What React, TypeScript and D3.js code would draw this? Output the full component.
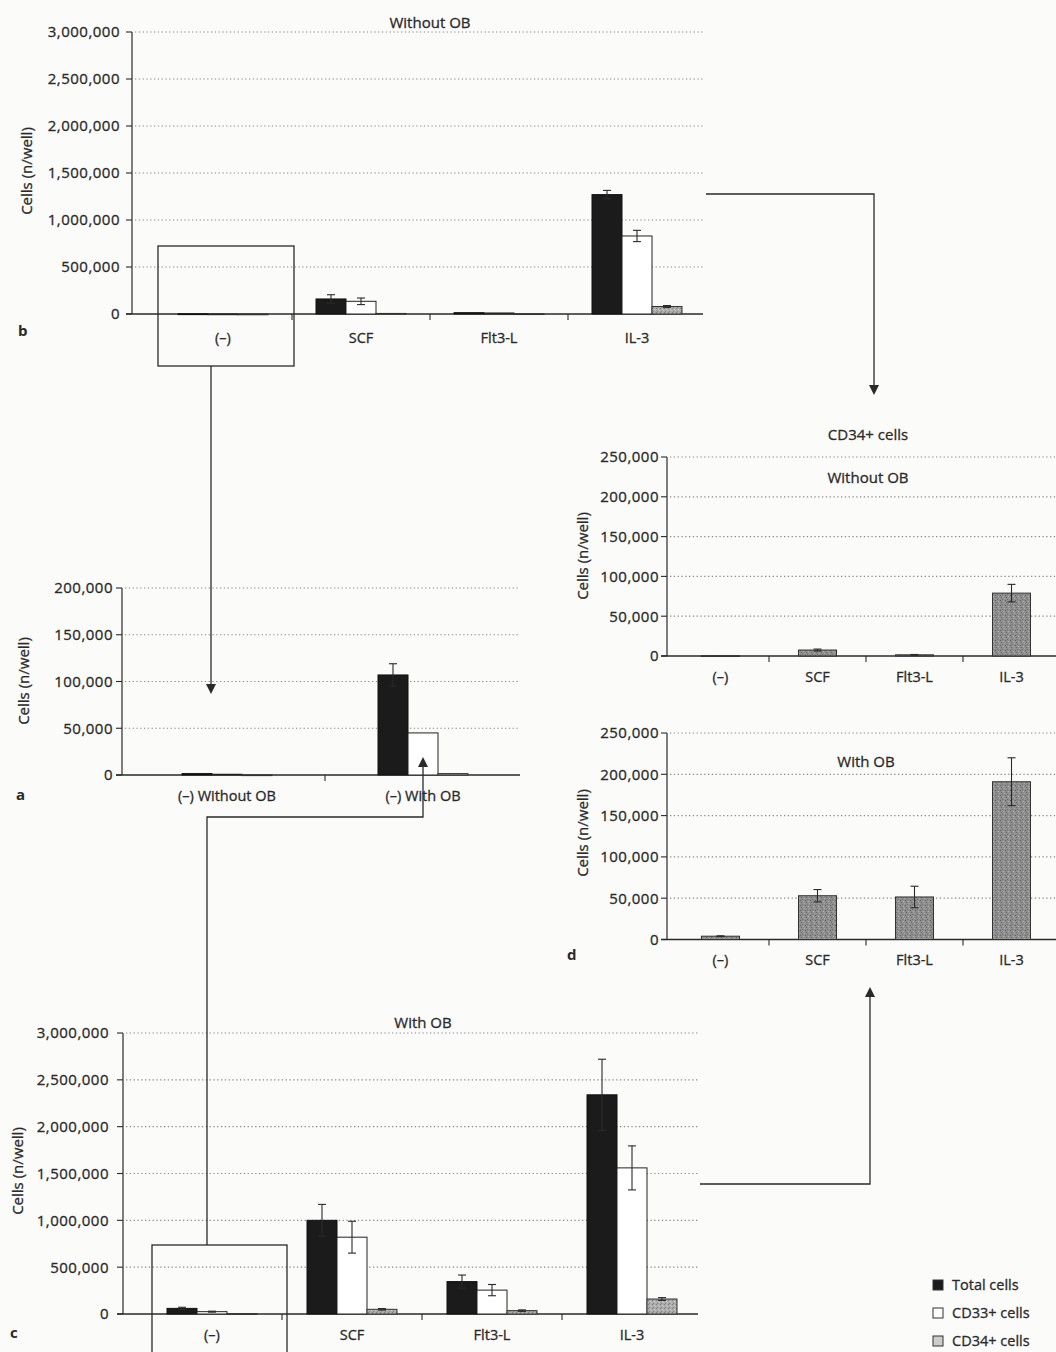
import React from "react";
import * as d3 from "d3";

// Cytokine conditions (x categories)
const cytokines = ["(–)", "SCF", "Flt3-L", "IL-3"];
const baselineGroups = ["(–) Without OB", "(–) With OB"];

// Panel b: cultures without osteoblasts (cells per well)
const bTotal = [2000, 160000, 14000, 1270000];
const bTotalErr = [0, 45000, 0, 45000];
const bCD33 = [1000, 135000, 11000, 830000];
const bCD33Err = [0, 35000, 0, 60000];
const bCD34 = [300, 6000, 3000, 80000];
const bCD34Err = [0, 0, 0, 10000];

// Panel a: no cytokine, without vs with osteoblasts
const aTotal = [1500, 107000];
const aTotalErr = [0, 12000];
const aCD33 = [800, 45000];
const aCD33Err = [0, 0];
const aCD34 = [200, 1500];
const aCD34Err = [0, 0];

// Panel c: cultures with osteoblasts
const cTotal = [60000, 1000000, 346000, 2340000];
const cTotalErr = [12000, 170000, 70000, 380000];
const cCD33 = [25000, 820000, 255000, 1560000];
const cCD33Err = [5000, 170000, 60000, 235000];
const cCD34 = [4000, 50000, 36000, 160000];
const cCD34Err = [0, 8000, 8000, 15000];

// Panel d: CD34+ cells only
const dWithout = [400, 7500, 1500, 79000];
const dWithoutErr = [0, 1200, 400, 11000];
const dWith = [4000, 53000, 51500, 191000];
const dWithErr = [500, 7500, 13000, 29000];

// Tick values
const millionTicks = [0, 500000, 1000000, 1500000, 2000000, 2500000, 3000000];
const smallTicks = [0, 50000, 100000, 150000, 200000];
const cd34Ticks = [0, 50000, 100000, 150000, 200000, 250000];

const legendItems = ["Total cells", "CD33+ cells", "CD34+ cells"];

const INK = "#2a2a2a";
const FONT = "'Open Sans', 'Noto Sans', sans-serif";
const fmt = d3.format(",");

// slightly heavier glyphs, like printed text
const textStyle = { stroke: INK, strokeWidth: 0.3, paintOrder: "stroke" } as React.CSSProperties;

type Series = { values: number[]; errors: number[]; fill: string; stroke: string };

type PanelProps = {
  categories: string[];
  series: Series[];
  ticks: number[];
  axisX: number;
  xStart: number;
  xEnd: number;
  gridEnd: number;
  y0: number;
  yTop: number;
  barW: number;
  labelGap: number;
  catLabelY: number;
};

function Panel(p: PanelProps) {
  const yMax = p.ticks[p.ticks.length - 1];
  const y = d3.scaleLinear().domain([0, yMax]).range([p.y0, p.yTop]);
  const x = d3.scaleBand<string>().domain(p.categories).range([p.xStart, p.xEnd]).padding(0);
  const n = p.series.length;
  const groupW = p.barW * n;
  const bounds = p.categories.slice(1).map((c) => x(c) as number);

  return (
    <g>
      {p.ticks.filter((t) => t > 0).map((t) => (
        <line key={"g" + t} x1={p.axisX + 3} x2={p.gridEnd} y1={y(t)} y2={y(t)}
          stroke="#8a8a8a" strokeWidth={1.2} strokeDasharray="1.3 2.5" />
      ))}
      {p.ticks.map((t) => (
        <g key={"t" + t}>
          <line x1={p.axisX - 6} x2={p.axisX} y1={y(t)} y2={y(t)} stroke={INK} strokeWidth={1.1} />
          <text x={p.axisX - p.labelGap} y={y(t)} dy="0.36em" textAnchor="end" style={textStyle}
            fontSize={15} letterSpacing={0.5} fill={INK} fontFamily={FONT}>{fmt(t)}</text>
        </g>
      ))}
      <line x1={p.axisX} x2={p.axisX} y1={y(yMax)} y2={p.y0} stroke={INK} strokeWidth={1.2} />
      <line x1={p.axisX - 6} x2={p.gridEnd} y1={p.y0} y2={p.y0} stroke={INK} strokeWidth={1.3} />
      {bounds.map((b, i) => (
        <line key={"xb" + i} x1={b} x2={b} y1={p.y0} y2={p.y0 + 6} stroke={INK} strokeWidth={1.1} />
      ))}
      {p.categories.map((c) => (
        <text key={"c" + c} x={(x(c) as number) + x.bandwidth() / 2} y={p.catLabelY} style={textStyle}
          textAnchor="middle" fontSize={14.5} fill={INK} fontFamily={FONT}>{c}</text>
      ))}
      {p.categories.map((c, ci) => {
        const cx = (x(c) as number) + x.bandwidth() / 2;
        return (
          <g key={"bars" + c}>
            {p.series.map((s, si) => {
              const v = s.values[ci];
              const e = s.errors[ci];
              const bx = cx - groupW / 2 + si * p.barW;
              const top = y(v);
              const mid = bx + p.barW / 2;
              return (
                <g key={si}>
                  <rect x={bx} y={top} width={p.barW} height={Math.max(0.8, p.y0 - top)}
                    fill={s.fill} stroke={s.stroke} strokeWidth={1} />
                  {e > 0 && (
                    <g stroke={INK} strokeWidth={1.1}>
                      <line x1={mid} x2={mid} y1={y(v + e)} y2={y(Math.max(0, v - e))} />
                      <line x1={mid - 4} x2={mid + 4} y1={y(v + e)} y2={y(v + e)} />
                      <line x1={mid - 4} x2={mid + 4} y1={y(Math.max(0, v - e))} y2={y(Math.max(0, v - e))} />
                    </g>
                  )}
                </g>
              );
            })}
          </g>
        );
      })}
    </g>
  );
}

function YLabel({ x, y }: { x: number; y: number }) {
  return (
    <text transform={`translate(${x},${y}) rotate(-90)`} textAnchor="middle" dy="0.35em" style={textStyle}
      fontSize={15} fill={INK} fontFamily={FONT}>Cells (n/well)</text>
  );
}

function Letter({ x, y, t }: { x: number; y: number; t: string }) {
  return <text x={x} y={y} fontSize={15} fontWeight={700} fill={INK} fontFamily={FONT}>{t}</text>;
}

function Title({ x, y, t }: { x: number; y: number; t: string }) {
  return <text x={x} y={y} textAnchor="middle" fontSize={15} fill={INK} fontFamily={FONT} style={textStyle}>{t}</text>;
}

function ArrowHead({ x, y, dir }: { x: number; y: number; dir: "up" | "down" }) {
  const h = dir === "down" ? -10 : 10;
  return <path d={`M${x},${y} L${x - 5},${y + h} L${x + 5},${y + h} Z`} fill={INK} />;
}

export default function App() {
  const black = "#1b1b1b";
  const white = "#ffffff";
  const grayC = "url(#stippleLight)";
  const grayD = "url(#stippleDark)";

  const mk = (vals: number[][], errs: number[][]): Series[] => [
    { values: vals[0], errors: errs[0], fill: black, stroke: "#111" },
    { values: vals[1], errors: errs[1], fill: white, stroke: "#222" },
    { values: vals[2], errors: errs[2], fill: grayC, stroke: "#333" },
  ];

  return (
    <div style={{ position: "absolute", left: 0, top: 0, width: 1056, height: 1352 }}>
      <svg width={1056} height={1352} viewBox="0 0 1056 1352" style={{ display: "block" }}>
        <defs>
          <pattern id="stippleLight" width={4} height={4} patternUnits="userSpaceOnUse">
            <rect width={4} height={4} fill="#ababab" />
            <rect x={0} y={0} width={1} height={1} fill="#7e7e7e" />
            <rect x={2} y={1} width={1} height={1} fill="#cfcfcf" />
            <rect x={1} y={3} width={1} height={1} fill="#8a8a8a" />
            <rect x={3} y={2} width={1} height={1} fill="#c4c4c4" />
          </pattern>
          <pattern id="stippleDark" width={5} height={5} patternUnits="userSpaceOnUse">
            <rect width={5} height={5} fill="#8e8e8e" />
            <rect x={0} y={0} width={1} height={1} fill="#5e5e5e" />
            <rect x={3} y={1} width={1} height={1} fill="#b4b4b4" />
            <rect x={1} y={2} width={1} height={1} fill="#6a6a6a" />
            <rect x={4} y={3} width={1} height={1} fill="#a8a8a8" />
            <rect x={2} y={4} width={1} height={1} fill="#707070" />
          </pattern>
        </defs>
        <rect width={1056} height={1352} fill="#fbfbfa" />

        {/* b: without OB */}
        <Title x={430} y={28} t="Without OB" />
        <Panel categories={cytokines} series={mk([bTotal, bCD33, bCD34], [bTotalErr, bCD33Err, bCD34Err])}
          ticks={millionTicks} axisX={132} xStart={154} xEnd={706} gridEnd={703}
          y0={314} yTop={32} barW={30} labelGap={12} catLabelY={343} />
        <YLabel x={27} y={171} />
        <Letter x={18} y={336} t="b" />

        {/* a: no cytokine */}
        <Panel categories={baselineGroups} series={mk([aTotal, aCD33, aCD34], [aTotalErr, aCD33Err, aCD34Err])}
          ticks={smallTicks} axisX={122} xStart={129} xEnd={521} gridEnd={520}
          y0={775} yTop={588} barW={30} labelGap={9} catLabelY={801} />
        <YLabel x={24} y={681} />
        <Letter x={16} y={800} t="a" />

        {/* c: with OB */}
        <Title x={423} y={1028} t="With OB" />
        <Panel categories={cytokines} series={mk([cTotal, cCD33, cCD34], [cTotalErr, cCD33Err, cCD34Err])}
          ticks={millionTicks} axisX={123} xStart={142} xEnd={702} gridEnd={698}
          y0={1314} yTop={1033} barW={30} labelGap={14} catLabelY={1340} />
        <YLabel x={18} y={1171} />
        <Letter x={10} y={1338} t="c" />

        {/* d: CD34+ cells */}
        <Title x={868} y={440} t="CD34+ cells" />
        <Title x={868} y={483} t="Without OB" />
        <Panel categories={cytokines}
          series={[{ values: dWithout, errors: dWithoutErr, fill: grayD, stroke: "#333" }]}
          ticks={cd34Ticks} axisX={667} xStart={672} xEnd={1060} gridEnd={1056}
          y0={656} yTop={457} barW={38} labelGap={8} catLabelY={682} />
        <YLabel x={583} y={556} />
        <Title x={866} y={767} t="With OB" />
        <Panel categories={cytokines}
          series={[{ values: dWith, errors: dWithErr, fill: grayD, stroke: "#333" }]}
          ticks={cd34Ticks} axisX={667} xStart={672} xEnd={1060} gridEnd={1056}
          y0={939.5} yTop={733} barW={38} labelGap={8} catLabelY={965} />
        <YLabel x={583} y={833} />
        <Letter x={567} y={960} t="d" />

        {/* highlight boxes and connectors */}
        <g fill="none" stroke={INK} strokeWidth={1.3}>
          <rect x={158} y={246} width={136} height={120} />
          <rect x={152} y={1245} width={135} height={120} />
          <path d="M211,366 V685" />
          <path d="M207,1245 V817 H423 V766" />
          <path d="M706,194 H874 V386" />
          <path d="M700,1184 H870 V996" />
        </g>
        <ArrowHead x={211} y={694} dir="down" />
        <ArrowHead x={423} y={757} dir="up" />
        <ArrowHead x={874} y={395} dir="down" />
        <ArrowHead x={870} y={987} dir="up" />

        {/* legend */}
        {legendItems.map((t, i) => {
          const cy = 1285 + i * 28;
          const fills = [black, white, "#cdcdcd"];
          return (
            <g key={t}>
              <rect x={933} y={cy - 5} width={10} height={10} fill={fills[i]} stroke="#333" strokeWidth={1} />
              <text x={952} y={cy} dy="0.36em" fontSize={14.5} fill={INK} fontFamily={FONT} style={textStyle}>{t}</text>
            </g>
          );
        })}
      </svg>
    </div>
  );
}
